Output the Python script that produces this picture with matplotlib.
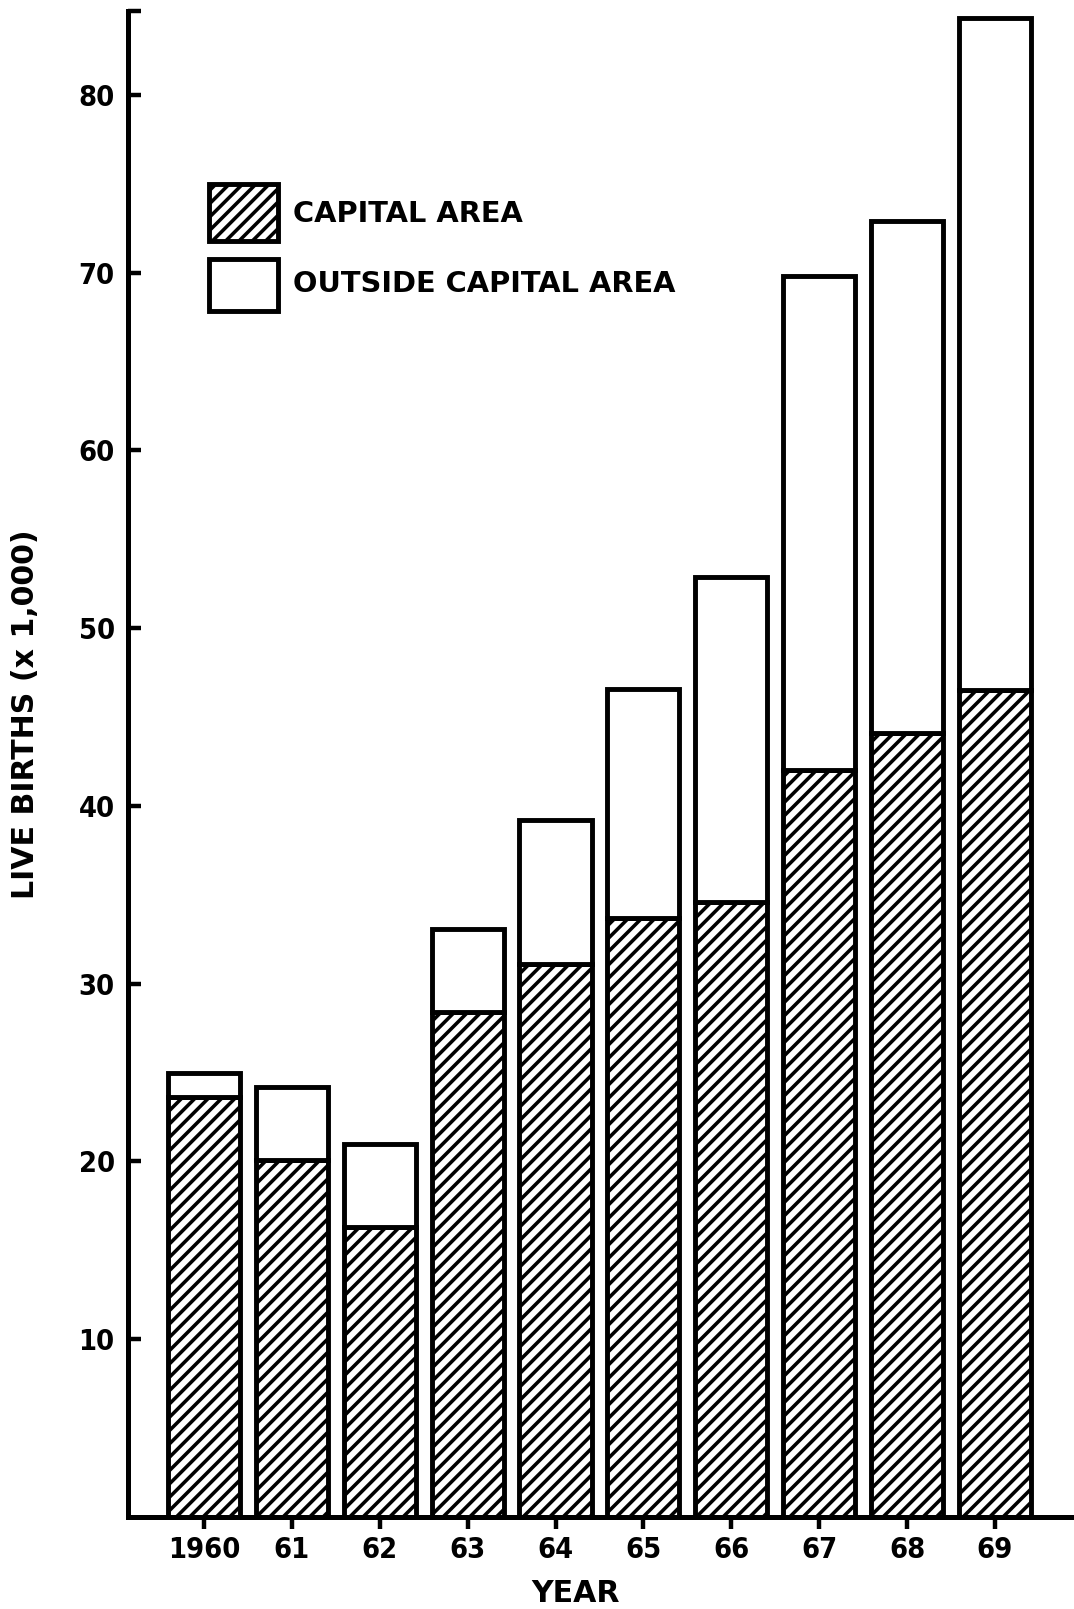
import matplotlib
matplotlib.use('Agg')
import matplotlib.pyplot as plt
from matplotlib.patches import Rectangle
from matplotlib.font_manager import FontProperties
import numpy as np

# ---- data ----
years = ['1960', '61', '62', '63', '64', '65', '66', '67', '68', '69']
capital = [23.6, 20.1, 16.3, 28.4, 31.1, 33.7, 34.6, 42.0, 44.1, 46.5]
total = [25.0, 24.2, 21.0, 33.1, 39.2, 46.6, 52.9, 69.8, 72.9, 84.3]
outside = [round(t - c, 2) for t, c in zip(total, capital)]
ytick_vals = [10, 20, 30, 40, 50, 60, 70, 80]
ytick_labels = ['10', '20', '30', '40', '50', '60', '70', '80']
legend_labels = ['CAPITAL AREA', 'OUTSIDE CAPITAL AREA']
ylabel_text = 'LIVE BIRTHS (x 1,000)'
xlabel_text = 'YEAR'

W, H = 1074, 1609
DPI = 80
plt.rcParams['hatch.linewidth'] = 3.2

def fp(size, stretch='condensed'):
    return FontProperties(family='DejaVu Sans', weight='bold', stretch=stretch, size=size)

fig = plt.figure(figsize=(W / DPI, H / DPI), dpi=DPI)
fig.patch.set_facecolor('white')
ax_left, ax_right, ax_top, ax_bot = 128, W, 11, 1517
ax = fig.add_axes([ax_left / W, (H - ax_bot) / H, (ax_right - ax_left) / W, (ax_bot - ax_top) / H])

x = np.arange(len(years))
lw = 4.4
bw = 0.82
ax.bar(x, capital, width=bw, color='white', edgecolor='black', hatch='//', linewidth=lw)
ax.bar(x, outside, bottom=capital, width=bw, color='white', edgecolor='black', linewidth=lw)

ytop = 84.72
ax.set_xlim(-0.865, 9.9)
ax.set_ylim(0, ytop)

for s in ['top', 'right']:
    ax.spines[s].set_visible(False)
for s in ['left', 'bottom']:
    ax.spines[s].set_linewidth(4.5)
    ax.spines[s].set_capstyle('projecting')

ax.set_xticks(x)
ax.set_xticklabels(years)
ax.set_yticks(ytick_vals + [ytop])
ax.set_yticklabels(ytick_labels + [''])
ax.tick_params(axis='y', direction='in', length=12, width=4.0, pad=12)
ax.tick_params(axis='x', direction='out', length=11, width=4.0, pad=6)
for lbl in ax.get_xticklabels() + ax.get_yticklabels():
    lbl.set_fontproperties(fp(26))

# axis labels
fig.text(26 / W, 1 - 714 / H, ylabel_text, rotation=90, ha='center', va='center',
         fontproperties=fp(27, 'normal'))
fig.text(576 / W, 1 - 1594 / H, xlabel_text, ha='center', va='center',
         fontproperties=fp(27, 'normal'))

# legend (manual)
def fig_rect(x0, y0, x1, y1, **kw):
    r = Rectangle((x0 / W, 1 - y1 / H), (x1 - x0) / W, (y1 - y0) / H,
                  transform=fig.transFigure, facecolor='white', edgecolor='black',
                  linewidth=lw, **kw)
    fig.add_artist(r)

fig_rect(209, 184, 278, 241, hatch='//')
fig_rect(209, 259, 278, 311)
fig.text(293 / W, 1 - 214 / H, legend_labels[0], ha='left', va='center',
         fontproperties=fp(26, 'normal'))
fig.text(293 / W, 1 - 284 / H, legend_labels[1], ha='left', va='center',
         fontproperties=fp(26, 'normal'))

fig.savefig('out.png', dpi=DPI, facecolor='white')
